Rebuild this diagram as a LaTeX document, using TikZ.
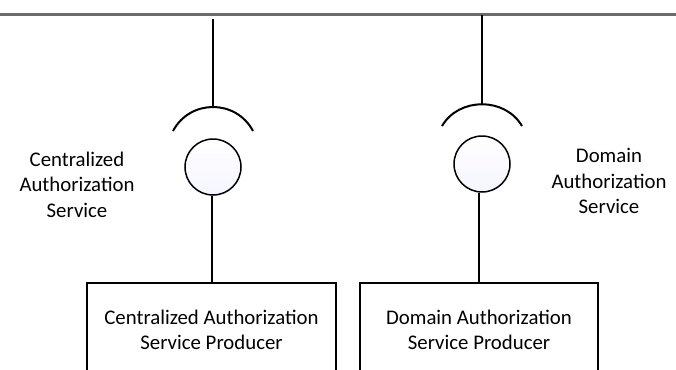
\documentclass[tikz,border=0pt]{standalone}
\usepackage{fontspec}
\setmainfont{Carlito}
\begin{document}
\begin{tikzpicture}[x=0.5pt,y=-0.5pt,
   port/.style={circle, draw, line width=0.75pt, minimum size=28pt, inner sep=0pt, top color=white, bottom color=blue!4!white},
   producer/.style={rectangle, draw, line width=0.7pt, minimum height=47pt, align=center, font=\fontsize{10.4}{12.5}\selectfont},
   svclabel/.style={align=center, font=\fontsize{10.4}{12.7}\selectfont},
   stem/.style={line width=1pt}]
   \useasboundingbox (0,0) rectangle (676,370);
   \clip (0,0) rectangle (676,370);
   \draw[line width=1.1pt, black!58] (0,14.5) -- (676,14.5);
   % centralized side
   \coordinate (ctop) at (213,19);
   \coordinate (ccup) at (213,107);
   \node[port] (cport) at (213,167) {};
   \node[producer, minimum width=124.5pt] (cprod) at (211.5,330) {Centralized Authorization\\Service Producer};
   \node[svclabel] (clabel) at (77,184.5) {Centralized\\Authorization\\Service};
   \draw[stem] (ctop) -- (ccup);
   \draw[stem] ([shift={(-40,24)}]ccup) .. controls ([shift={(-23,-8)}]ccup) and ([shift={(23,-8)}]ccup) .. ([shift={(40,24)}]ccup);
   \draw[stem] (cprod.north) -- (cprod.north |- cport.south);
   % domain side
   \coordinate (dtop) at (482,14.5);
   \coordinate (dcup) at (482,104);
   \node[port] (dport) at (482,164) {};
   \node[producer, minimum width=119pt] (dprod) at (479,330) {Domain Authorization\\Service Producer};
   \node[svclabel] (dlabel) at (609,181) {Domain\\Authorization\\Service};
   \draw[stem] (dtop) -- (dcup);
   \draw[stem] ([shift={(-40,22)}]dcup) .. controls ([shift={(-23,-7)}]dcup) and ([shift={(23,-7)}]dcup) .. ([shift={(40,22)}]dcup);
   \draw[stem] (dprod.north) -- (dprod.north |- dport.south);
\end{tikzpicture}
\end{document}
